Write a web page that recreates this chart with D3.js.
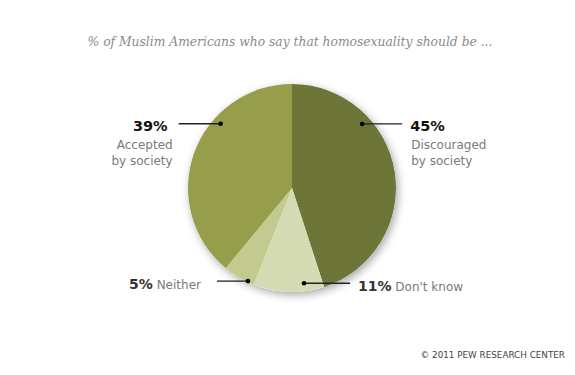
<!DOCTYPE html>
<html>
<head>
<meta charset="utf-8">
<script src="https://cdn.jsdelivr.net/npm/d3@7"></script>
<style>
  body { margin: 0; background: #fff; }
</style>
</head>
<body>
<div id="svg-holder"></div>
<script>
// answers, clockwise from 12 o'clock
let categories = ["Discouraged by society", "Don't know", "Neither", "Accepted by society"];
let values = [45, 11, 5, 39];
let colors = ["#6e7539", "#d5dcb3", "#c2ca8f", "#969e4b"];

const W = 575, H = 375;
const cx = 292, cy = 188, radius = 104;

let svg = d3.select("#svg-holder")
    .append("svg")
    .attr("width", W)
    .attr("height", H);

let defs = svg.append("defs");
let f = defs.append("filter").attr("id", "shadow")
    .attr("x", "-20%").attr("y", "-20%").attr("width", "140%").attr("height", "140%");
f.append("feDropShadow")
    .attr("dx", 2).attr("dy", 3)
    .attr("stdDeviation", 4)
    .attr("flood-color", "#000")
    .attr("flood-opacity", 0.35);

svg.append("text")
    .attr("x", 290).attr("y", 46)
    .attr("text-anchor", "middle")
    .style("font-family", "'DejaVu Serif', Georgia, serif")
    .style("font-style", "italic")
    .style("font-size", "12.3px")
    .style("fill", "#8a8a8a")
    .text("% of Muslim Americans who say that homosexuality should be ...");

let pie = d3.pie().sort(null).value(d => d);
let arcs = pie(values);
let arc = d3.arc().innerRadius(0).outerRadius(radius);

let g = svg.append("g").attr("transform", "translate(" + cx + "," + cy + ")");

g.append("circle").attr("r", radius).style("fill", "#fff").attr("filter", "url(#shadow)");

g.selectAll("path")
  .data(arcs)
  .join("path")
    .attr("d", arc)
    .style("fill", (d, i) => colors[i]);

// label placement: dot angle (deg) and radius, line length (negative = leftwards)
let labelAngle = [47.6, 172.8, 205.3, 312];
let labelRad = [95, 96, 103, 96];
let lineLen = [40, 46, -31, -42];

let labelLines = [
  ["Discouraged", "by society"],
  ["Don't know"],
  ["Neither"],
  ["Accepted", "by society"]
];

const sans = "'DejaVu Sans', Verdana, sans-serif";

arcs.forEach((a, i) => {
  let p = d3.pointRadial(labelAngle[i] * Math.PI / 180, labelRad[i]);
  let x0 = cx + p[0], y0 = cy + p[1];
  let x1 = x0 + lineLen[i];
  svg.append("line")
      .attr("x1", x0).attr("y1", y0)
      .attr("x2", x1).attr("y2", y0)
      .style("stroke", "#222").style("stroke-width", 1.3);
  svg.append("circle")
      .attr("cx", x0).attr("cy", y0).attr("r", 2.3)
      .style("fill", "#000");

  let right = lineLen[i] > 0;
  let pct = (a.data) + "%";
  if (labelLines[i].length == 2) {
    let tx = right ? x1 + 8 : x1 - 11;
    let anchor = right ? "start" : "end";
    svg.append("text")
        .attr("x", tx).attr("y", y0 + 7)
        .attr("text-anchor", anchor)
        .style("font-family", sans)
        .style("font-size", "14.5px")
        .style("font-weight", "bold")
        .style("fill", "#111")
        .text(pct);
    labelLines[i].forEach((s, k) => {
      svg.append("text")
          .attr("x", right ? tx + 1 : tx + 5)
          .attr("y", y0 + 25 + k * 16)
          .attr("text-anchor", anchor)
          .style("font-family", sans)
          .style("font-size", "12px")
          .style("fill", "#7a7a7a")
          .text(s);
    });
  } else {
    let tx = right ? x1 + 8 : x1 - 16;
    let t = svg.append("text")
        .attr("x", tx).attr("y", y0 + 8)
        .attr("text-anchor", right ? "start" : "end")
        .style("font-family", sans);
    t.append("tspan")
        .style("font-size", "14px")
        .style("font-weight", "bold")
        .style("fill", "#333")
        .text(pct);
    t.append("tspan")
        .style("font-size", "12px")
        .style("fill", "#7a7a7a")
        .text(" " + labelLines[i][0]);
  }
});

svg.append("text")
    .attr("x", 565).attr("y", 358)
    .attr("text-anchor", "end")
    .style("font-family", "'DejaVu Sans', Verdana, sans-serif")
    .style("font-size", "8.8px")
    .style("fill", "#444")
    .text("© 2011 PEW RESEARCH CENTER");
</script>
</body>
</html>
